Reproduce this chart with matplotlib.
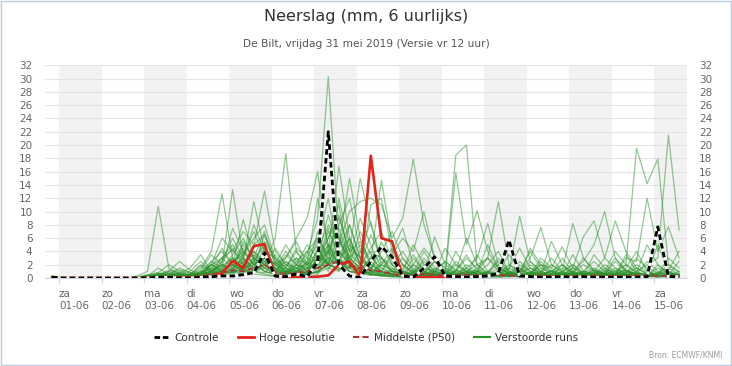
import pandas as pd
import matplotlib
matplotlib.use('Agg')
import matplotlib.pyplot as plt
from matplotlib.lines import Line2D
from matplotlib.patches import Rectangle

plt.rcParams['font.family'] = 'DejaVu Sans'

# 6-uurlijkse tijdstappen (eerste waarde 31-05 20u) en de dagen op de x-as
times = pd.date_range('2019-05-31 20:00', periods=60, freq='6h')
days = pd.date_range('2019-06-01', '2019-06-15', freq='D')
day_names = ['za', 'zo', 'ma', 'di', 'wo', 'do', 'vr', 'za',
             'zo', 'ma', 'di', 'wo', 'do', 'vr', 'za']

# neerslag in mm; per regel: 5 dagen van 4 stappen
controle = [0.1,
    0, 0, 0, 0,  0, 0, 0, 0,  0, 0.1, 0.1, 0,  0, 0.1, 0.2, 0.3,  0.3, 0.5, 0.8, 3.8,
    0.3, 0.2, 0.6, 0.2,  2.4, 22.0, 2.0, 0.3,  0.1, 2.5, 4.7, 3.2,  0.3, 0.1, 1.5, 3.2,  0.3, 0.2, 0.1, 0.2,
    0.3, 0.7, 5.7, 0.3,  0.2, 0.1, 0.1, 0.2,  0.1, 0.2, 0.1, 0.1,  0.1, 0.1, 0.1, 0.2,  7.7, 0.2, 0.2]

hoge_resolutie = [0,
    0, 0, 0, 0,  0, 0, 0, 0,  0, 0, 0, 0,  0, 0.1, 0.2, 0.7,  2.6, 1.5, 4.8, 5.1,
    0.3, 0.1, 0.1, 0.1,  0.2, 0.4, 2.0, 2.5,  0.2, 18.4, 6.0, 5.5,  0.2, 0.1, 0.1, 0.1,  0.1, 0.1, 0.1]

middelste = [0.1,
    0, 0, 0, 0,  0, 0, 0, 0,  0.1, 0.2, 0.2, 0.2,  0.2, 0.3, 0.6, 0.8,  1.2, 1.0, 1.5, 2.0,
    0.8, 0.6, 0.8, 1.0,  1.5, 2.0, 2.5, 1.8,  1.5, 1.2, 1.0, 0.6,  0.4, 0.4, 0.6, 0.5,  0.4, 0.4, 0.5, 0.4,
    0.4, 0.4, 0.4, 0.3,  0.3, 0.4, 0.3, 0.3,  0.3, 0.3, 0.4, 0.3,  0.3, 0.3, 0.4, 0.4,  0.3, 0.3, 0.3]

m01 = [0.2,
    0, 0, 0, 0,  0, 0, 0, 0,  0, 0.5, 1.2, 0.8,  0.3, 0.6, 1.5, 3.0,  4.2, 2.0, 1.0, 0.6,
    0.2, 0.5, 2.0, 3.5,  9.0, 30.3, 6.0, 1.5,  0.5, 1.0, 0.3, 0.2,  0.5, 1.2, 0.4, 0.2,  0, 0.3, 1.0, 0.6,
    0.2, 0, 0.4, 1.2,  0.5, 0.2, 0, 0.3,  0.8, 0.4, 0.2, 0,  0.3, 1.0, 0.5, 0.2,  0.4, 0.2, 0.1]
m02 = [0.3,
    0.1, 0, 0, 0,  0, 0, 0, 0.3,  1.0, 10.8, 1.5, 0.6,  0.4, 0.8, 2.0, 1.2,  3.5, 6.0, 2.5, 1.0,
    0.5, 1.5, 4.0, 2.0,  12.0, 5.0, 2.0, 8.0,  3.0, 1.2, 0.5, 0.3,  0.2, 0.8, 2.5, 1.0,  0.5, 0.3, 0.2, 1.5,
    3.0, 1.0, 0.4, 0.2,  0.6, 2.0, 1.0, 0.3,  0.2, 0.5, 1.2, 0.6,  0.3, 0.2, 1.5, 0.8,  0.5, 1.0, 0.3]
m03 = [0.2,
    0, 0, 0, 0,  0, 0, 0, 0,  0.2, 0.8, 2.0, 1.0,  0.5, 1.5, 4.0, 12.7,  3.0, 1.0, 2.5, 5.0,
    1.2, 0.6, 0.3, 1.0,  2.5, 4.0, 16.8, 6.0,  2.0, 0.8, 0.4, 0.2,  0, 0.5, 1.5, 0.7,  0.3, 1.0, 3.0, 1.5,
    0.6, 0.3, 0.2, 0.8,  2.5, 1.0, 0.4, 0.2,  0.6, 0.3, 0.5, 1.0,  4.0, 2.0, 0.8, 0.5,  0.3, 0.2, 0.6]
m04 = [0.2,
    0, 0, 0, 0,  0, 0, 0, 0,  0, 0.3, 1.0, 2.5,  1.2, 0.5, 1.0, 2.0,  13.3, 3.0, 1.5, 6.5,
    2.0, 0.8, 0.5, 0.3,  0.5, 3.5, 8.0, 12.0,  4.0, 1.0, 0.5, 0.3,  0.2, 0.2, 0.8, 0.5,  0.2, 0.6, 0.4, 0.3,
    1.0, 2.5, 1.0, 0.4,  0.3, 0.8, 3.0, 1.0,  0.5, 0.3, 0.2, 0.6,  1.2, 0.5, 0.3, 0.2,  0.2, 0.5, 0.3]
m05 = [0.1,
    0, 0, 0, 0,  0, 0, 0, 0,  0.4, 0.6, 0.8, 0.5,  0.2, 0.3, 2.5, 4.0,  2.0, 8.8, 3.0, 2.0,
    6.0, 18.7, 4.0, 1.5,  1.0, 2.0, 6.5, 3.0,  9.0, 5.0, 1.5, 0.6,  0.3, 0.4, 0.6, 0.3,  0.2, 0.2, 0.5, 1.0,
    0.5, 0.2, 0.2, 0.3,  0.5, 1.5, 0.6, 0.3,  0.2, 0.4, 0.8, 0.3,  0.3, 0.8, 2.0, 1.0,  0.4, 0.2, 0.2]
m06 = [0.2,
    0, 0, 0, 0,  0, 0, 0, 0,  0.3, 1.5, 0.5, 0.3,  0.5, 2.0, 1.0, 3.0,  5.0, 2.5, 11.5, 4.0,
    3.0, 1.0, 0.8, 2.0,  5.5, 12.0, 3.0, 1.0,  0.5, 11.0, 12.0, 4.0,  1.0, 0.5, 0.3, 0.2,  0.4, 1.2, 0.5, 0.2,
    0.2, 0.5, 1.5, 0.6,  0.3, 0.2, 0.4, 0.8,  2.0, 0.6, 0.3, 0.2,  0.5, 0.2, 0.3, 0.6,  0.3, 0.2, 0.5]
m07 = [0.2,
    0, 0, 0, 0,  0, 0, 0, 0,  0, 0.4, 0.6, 1.2,  0.8, 0.4, 2.0, 6.0,  4.0, 7.0, 5.0, 13.1,
    4.0, 2.0, 1.0, 0.6,  3.0, 6.0, 11.0, 2.0,  1.0, 0.5, 0.3, 0.2,  0.4, 0.2, 0.2, 0.6,  0.3, 0.2, 0.4, 0.3,
    0.2, 0.6, 0.4, 2.0,  1.0, 0.4, 0.2, 0.3,  0.8, 0.4, 0.2, 0.2,  0.4, 0.3, 0.2, 0.3,  0.2, 0.3, 0.2]
m08 = [0.3,
    0, 0, 0, 0,  0, 0, 0, 0.2,  0.5, 0.8, 0.4, 0.3,  0.6, 1.2, 3.5, 2.0,  1.5, 3.0, 8.0, 4.0,
    2.0, 3.0, 6.0, 9.0,  16.0, 4.0, 2.0, 1.0,  0.8, 2.5, 14.7, 5.0,  2.0, 0.6, 0.3, 0.2,  0.5, 0.3, 0.2, 0.4,
    0.8, 0.4, 0.2, 0.2,  0.4, 0.6, 0.3, 0.2,  0.3, 0.5, 0.8, 0.4,  0.2, 0.3, 0.4, 0.2,  0.3, 0.2, 0.2]
m09 = [0.1,
    0, 0, 0, 0,  0, 0, 0, 0,  0.2, 0.3, 0.6, 0.4,  0.3, 0.5, 1.0, 2.5,  6.0, 3.0, 1.0, 2.0,
    1.0, 3.5, 2.0, 1.0,  4.0, 8.0, 5.0, 15.0,  6.0, 2.0, 1.0, 0.5,  0.3, 2.0, 1.0, 0.4,  0.2, 0.3, 0.6, 0.3,
    0.2, 0.3, 0.8, 0.4,  0.2, 0.4, 0.2, 0.5,  1.5, 0.6, 0.3, 0.2,  0.2, 0.3, 0.8, 0.3,  0.2, 0.4, 0.3]
m10 = [0.2,
    0, 0, 0, 0,  0, 0, 0, 0,  0.3, 0.2, 0.4, 0.3,  0.5, 0.8, 2.0, 1.0,  2.5, 4.0, 2.0, 3.0,
    0.8, 1.5, 4.5, 3.0,  2.0, 6.0, 9.0, 4.0,  15.0, 8.0, 3.0, 1.0,  0.5, 0.3, 0.8, 2.5,  1.0, 0.4, 0.2, 0.3,
    0.3, 0.6, 0.3, 0.2,  0.6, 1.0, 0.4, 0.2,  0.3, 0.2, 0.5, 1.2,  0.5, 0.3, 0.2, 0.4,  0.2, 0.2, 0.3]
m11 = [0.2,
    0, 0, 0, 0,  0, 0, 0, 0,  0.1, 0.3, 0.5, 0.2,  0.3, 0.6, 1.0, 1.8,  3.0, 1.5, 2.0, 2.5,
    1.0, 0.8, 1.5, 2.0,  3.0, 2.5, 5.0, 10.0,  11.5, 12.0, 11.0, 6.0,  9.0, 17.9, 8.0, 3.0,  1.0, 0.5, 0.3, 0.2,
    0.2, 0.4, 0.8, 0.3,  0.2, 0.3, 0.6, 0.3,  0.2, 0.4, 0.3, 0.2,  0.3, 0.5, 0.3, 0.2,  0.2, 0.2, 0.3]
m12 = [0.1,
    0, 0, 0, 0,  0, 0, 0, 0,  0.2, 0.4, 0.3, 0.2,  0.2, 0.4, 1.2, 2.0,  1.0, 2.5, 3.5, 2.0,
    1.5, 0.8, 2.5, 4.0,  6.0, 3.0, 2.0, 1.5,  2.0, 4.0, 3.0, 1.0,  0.5, 2.0, 4.5, 2.5,  1.0, 18.5, 20.0, 2.0,
    3.0, 1.5, 0.8, 0.4,  0.3, 0.5, 1.0, 0.4,  0.3, 0.2, 0.4, 0.6,  0.3, 0.2, 0.4, 0.3,  0.2, 0.3, 0.2]
m13 = [0.2,
    0, 0, 0, 0,  0, 0, 0, 0,  0.3, 0.2, 0.5, 0.8,  0.4, 0.3, 0.8, 1.5,  2.0, 5.0, 3.0, 1.5,
    0.6, 1.0, 2.0, 5.0,  3.0, 9.5, 4.0, 2.0,  1.0, 3.0, 5.0, 2.0,  0.6, 0.4, 1.5, 1.0,  0.5, 15.8, 5.0, 10.1,
    4.0, 1.5, 0.8, 0.3,  0.2, 0.3, 0.5, 0.8,  0.5, 0.3, 0.2, 0.4,  0.6, 0.3, 0.2, 0.3,  0.4, 0.2, 0.3]
m14 = [0.2,
    0, 0, 0, 0,  0, 0, 0, 0,  0, 0.2, 0.3, 0.5,  0.3, 0.2, 0.6, 1.0,  2.5, 1.2, 0.8, 3.0,
    1.5, 4.0, 2.0, 1.0,  7.0, 2.0, 3.5, 6.0,  2.0, 1.0, 0.8, 3.5,  6.0, 4.0, 10.0, 3.0,  1.5, 0.8, 0.5, 1.0,
    3.0, 11.5, 2.0, 0.8,  0.4, 0.3, 0.6, 1.5,  0.8, 0.4, 0.3, 0.2,  0.3, 0.6, 0.4, 0.3,  0.2, 0.4, 0.3]
m15 = [0.1,
    0, 0, 0, 0,  0, 0, 0, 0,  0.2, 0.5, 0.3, 0.2,  0.2, 0.4, 0.8, 0.5,  1.0, 2.0, 4.0, 2.5,
    1.0, 2.5, 1.5, 0.8,  4.5, 2.0, 1.5, 3.0,  1.5, 0.6, 2.5, 1.0,  0.5, 0.8, 0.5, 6.2,  2.0, 0.8, 1.5, 3.0,
    8.2, 2.0, 1.0, 9.3,  2.5, 1.0, 0.4, 0.3,  0.6, 0.4, 0.8, 0.3,  0.2, 0.4, 0.3, 0.2,  0.3, 0.2, 0.4]
m16 = [0.2,
    0, 0, 0, 0,  0, 0, 0, 0,  0.1, 0.2, 0.4, 0.3,  0.5, 0.8, 1.5, 1.0,  0.8, 1.5, 2.5, 1.0,
    0.5, 0.8, 2.0, 1.5,  2.5, 5.0, 3.0, 1.0,  0.6, 0.4, 0.8, 0.5,  0.3, 0.6, 0.4, 1.0,  2.5, 1.2, 0.6, 0.4,
    1.0, 0.5, 2.0, 1.0,  3.0, 7.6, 2.0, 1.0,  8.2, 3.0, 1.0, 0.5,  0.6, 1.2, 0.5, 0.3,  0.4, 0.3, 0.2]
m17 = [0.2,
    0, 0, 0, 0,  0, 0, 0, 0,  0.2, 0.3, 0.2, 0.4,  0.6, 0.3, 0.5, 1.2,  2.0, 1.0, 0.8, 2.0,
    0.8, 0.5, 1.0, 2.5,  1.5, 3.0, 6.0, 2.0,  1.0, 0.5, 0.4, 0.6,  0.3, 0.2, 0.5, 0.8,  0.4, 0.3, 0.6, 0.3,
    0.5, 1.5, 0.6, 0.3,  0.8, 2.0, 1.5, 4.7,  1.5, 6.2, 8.6, 3.0,  1.5, 0.8, 0.6, 0.4,  0.3, 0.5, 0.3]
m18 = [0.1,
    0, 0, 0, 0,  0, 0, 0, 0,  0, 0.2, 0.3, 0.1,  0.2, 0.4, 0.3, 0.8,  1.2, 0.6, 1.0, 1.5,
    0.6, 0.4, 1.2, 0.8,  2.0, 4.0, 2.5, 1.0,  0.8, 0.5, 0.3, 1.5,  1.0, 0.4, 0.2, 0.3,  0.6, 0.4, 0.8, 0.4,
    0.3, 0.6, 0.4, 0.8,  1.5, 0.6, 0.4, 0.6,  1.0, 2.5, 5.0, 10.0,  3.0, 1.0, 0.6, 0.4,  0.4, 0.3, 0.5]
m19 = [0.1,
    0, 0, 0, 0,  0, 0, 0, 0,  0.1, 0.2, 0.2, 0.3,  0.2, 0.5, 0.6, 0.4,  0.8, 1.5, 0.6, 0.4,
    0.3, 0.8, 1.5, 0.6,  1.0, 2.0, 1.2, 3.0,  1.5, 0.6, 0.4, 0.3,  0.2, 0.4, 0.8, 0.4,  0.3, 0.6, 0.4, 0.2,
    0.4, 0.3, 0.8, 0.5,  0.3, 0.6, 1.0, 2.0,  0.8, 0.5, 1.2, 0.6,  1.0, 2.0, 19.5, 14.2,  17.9, 2.0, 1.0]
m20 = [0.2,
    0, 0, 0, 0,  0, 0, 0, 0,  0.2, 0.1, 0.3, 0.6,  0.4, 0.2, 0.5, 0.8,  1.5, 2.5, 1.0, 0.8,
    2.5, 1.0, 0.6, 1.5,  2.0, 7.0, 4.0, 2.5,  1.0, 0.8, 2.0, 1.2,  0.6, 0.3, 0.4, 1.5,  0.8, 0.4, 0.3, 0.6,
    0.4, 0.3, 0.5, 0.3,  0.6, 0.4, 0.3, 0.8,  0.5, 1.0, 0.6, 0.4,  0.8, 0.4, 1.0, 2.0,  3.0, 21.5, 7.2]
m21 = [0.1,
    0, 0, 0, 0,  0, 0, 0, 0,  0.1, 0.3, 0.2, 0.2,  0.3, 0.4, 0.6, 0.3,  0.6, 1.8, 3.0, 1.5,
    0.8, 2.0, 3.0, 1.0,  1.5, 4.5, 7.5, 3.0,  5.0, 2.0, 1.0, 0.5,  0.4, 0.8, 2.0, 0.6,  0.4, 0.6, 1.2, 0.5,
    0.3, 0.8, 0.4, 0.6,  0.4, 0.3, 1.2, 0.5,  0.3, 0.6, 0.4, 0.8,  0.5, 3.0, 2.5, 12.0,  4.0, 7.7, 3.0]
m22 = [0.2,
    0, 0, 0, 0,  0, 0, 0, 0,  0.3, 0.4, 0.2, 0.1,  0.2, 0.6, 0.4, 0.5,  1.0, 0.8, 2.0, 3.5,
    2.0, 1.2, 0.8, 0.5,  0.8, 1.5, 3.0, 4.5,  2.5, 1.5, 4.0, 7.0,  3.0, 1.0, 0.5, 0.3,  0.6, 0.4, 0.3, 0.8,
    0.5, 0.4, 0.3, 0.6,  0.8, 0.5, 1.0, 0.6,  0.8, 2.0, 1.0, 3.0,  8.6, 4.0, 1.5, 0.6,  0.8, 1.5, 0.5]
m23 = [0.2,
    0, 0, 0, 0,  0, 0, 0, 0,  0.2, 0.4, 1.0, 0.6,  0.3, 1.0, 2.5, 1.5,  7.5, 4.0, 2.0, 3.0,
    1.0, 0.6, 1.5, 3.0,  6.0, 3.5, 9.5, 4.0,  2.0, 6.5, 3.0, 1.5,  0.5, 0.3, 0.6, 0.4,  0.5, 1.0, 3.5, 1.0,
    0.4, 0.6, 0.8, 0.4,  4.5, 2.0, 0.6, 0.4,  0.5, 0.8, 0.4, 0.6,  0.3, 0.5, 0.8, 5.0,  2.0, 0.6, 0.4]
m24 = [0.1,
    0, 0, 0, 0,  0, 0, 0, 0,  0.2, 0.6, 0.3, 0.8,  1.5, 3.5, 1.0, 2.0,  1.0, 3.5, 6.0, 8.0,
    3.0, 1.5, 0.5, 0.8,  3.0, 2.0, 12.0, 5.0,  3.0, 1.5, 0.6, 1.0,  0.6, 3.0, 1.0, 0.5,  0.4, 4.0, 1.5, 0.6,
    0.5, 0.3, 0.6, 0.4,  1.0, 0.6, 0.3, 0.5,  0.4, 0.3, 0.6, 1.5,  0.6, 0.4, 0.3, 0.6,  5.0, 1.0, 0.4]
m25 = [0.2,
    0, 0, 0, 0,  0, 0, 0, 0,  0.4, 0.2, 0.5, 0.3,  0.6, 1.8, 0.8, 1.0,  2.0, 1.2, 3.0, 7.0,
    2.5, 0.6, 0.3, 0.5,  1.0, 2.0, 4.0, 2.0,  7.0, 3.5, 1.0, 0.4,  0.8, 0.5, 0.3, 0.6,  0.3, 0.5, 0.8, 1.2,
    0.6, 3.0, 1.0, 0.4,  0.3, 0.4, 0.6, 0.3,  1.0, 0.5, 0.3, 0.4,  0.6, 1.2, 0.5, 0.3,  0.8, 0.4, 1.0]
m26 = [0.1,
    0, 0, 0, 0,  0, 0, 0, 0,  0.1, 0.2, 0.4, 0.2,  0.3, 0.8, 2.0, 3.0,  1.5, 4.5, 2.0, 1.0,
    0.6, 1.0, 3.0, 2.0,  4.0, 2.0, 3.0, 5.0,  3.0, 2.0, 1.0, 4.0,  7.5, 2.0, 0.8, 0.4,  0.6, 2.0, 1.0, 0.5,
    0.4, 1.0, 3.5, 1.5,  0.6, 3.0, 1.5, 0.6,  0.4, 1.0, 2.5, 1.0,  0.5, 3.5, 1.0, 0.4,  0.6, 2.0, 0.8]
m27 = [0.2,
    0, 0, 0, 0,  0, 0, 0, 0,  0.2, 0.1, 0.3, 0.4,  0.2, 0.5, 0.8, 1.5,  3.0, 2.0, 4.0, 2.0,
    1.0, 2.5, 1.0, 4.0,  2.0, 5.0, 2.0, 1.5,  4.0, 8.5, 2.0, 1.0,  3.0, 1.2, 0.6, 2.5,  1.5, 0.6, 0.4, 3.5,
    1.0, 0.6, 0.4, 1.0,  4.0, 1.5, 0.8, 0.5,  3.5, 1.0, 0.6, 2.0,  1.0, 0.6, 3.0, 1.5,  0.8, 0.4, 2.5]
m28 = [0.1,
    0, 0, 0, 0,  0, 0, 0, 0,  0, 0.2, 0.4, 0.3,  0.5, 0.3, 1.2, 0.8,  2.5, 3.5, 7.0, 3.0,
    1.5, 0.8, 0.5, 1.0,  1.5, 3.0, 2.0, 6.0,  2.0, 1.0, 5.5, 2.0,  1.0, 5.0, 2.0, 0.8,  4.5, 2.0, 0.8, 0.5,
    0.8, 2.0, 0.6, 0.4,  1.5, 0.8, 5.5, 2.0,  0.6, 0.4, 1.0, 0.6,  2.5, 1.0, 0.5, 0.8,  0.6, 3.0, 1.5]
m29 = [0.2,
    0, 0, 0, 0,  0, 0, 0, 0,  0.2, 0.3, 0.2, 0.5,  0.4, 1.0, 0.6, 2.5,  4.5, 2.0, 1.0, 3.5,
    2.0, 5.0, 2.5, 1.0,  0.8, 4.0, 6.0, 2.5,  1.2, 3.0, 1.5, 0.8,  2.0, 0.8, 4.0, 1.5,  0.6, 0.4, 2.0, 0.8,
    5.0, 1.5, 0.6, 2.5,  1.0, 0.5, 0.3, 2.0,  0.8, 3.0, 1.2, 0.6,  0.4, 1.5, 4.0, 1.0,  0.5, 0.8, 0.4]
m30 = [0.1,
    0, 0, 0, 0,  0, 0, 0, 0,  0.3, 0.6, 0.2, 0.2,  0.6, 0.4, 2.0, 1.0,  1.2, 5.5, 3.0, 1.5,
    3.5, 1.5, 0.8, 2.5,  5.0, 1.5, 1.0, 3.5,  2.0, 4.5, 7.0, 2.5,  1.0, 0.5, 0.4, 0.8,  2.5, 1.0, 6.0, 2.0,
    0.8, 0.5, 0.3, 0.6,  0.5, 2.5, 1.0, 0.5,  0.6, 0.5, 3.5, 1.5,  0.8, 0.5, 0.6, 2.5,  1.0, 0.5, 0.6]
m31 = [0.2,
    0, 0, 0, 0,  0, 0, 0, 0,  0.1, 0.2, 0.6, 1.5,  0.8, 0.4, 0.6, 1.2,  2.0, 1.0, 2.5, 5.5,
    3.0, 1.5, 1.0, 0.6,  2.5, 7.5, 3.0, 1.5,  0.8, 1.5, 3.0, 2.0,  4.0, 1.5, 0.6, 0.3,  1.2, 0.6, 0.4, 0.8,
    2.0, 4.0, 1.0, 0.5,  0.4, 0.8, 2.0, 0.8,  0.4, 0.6, 0.4, 0.8,  1.5, 0.6, 0.4, 0.3,  2.0, 0.8, 0.5]
m32 = [0.2,
    0, 0, 0, 0,  0, 0, 0, 0,  0.2, 0.4, 0.3, 0.2,  0.2, 0.6, 1.5, 4.5,  2.0, 1.2, 0.8, 2.5,
    1.0, 3.0, 5.5, 2.0,  1.5, 2.5, 4.5, 8.0,  3.0, 1.5, 0.8, 0.6,  1.5, 3.5, 1.0, 0.6,  0.8, 0.4, 1.0, 2.0,
    0.6, 0.4, 1.5, 4.5,  1.5, 0.6, 0.4, 1.0,  2.0, 0.8, 0.4, 0.6,  3.0, 1.2, 0.6, 0.4,  0.6, 1.2, 4.0]
m33 = [0.1,
    0, 0, 0, 0,  0, 0, 0, 0,  0.1, 0.1, 0.3, 0.2,  0.3, 0.5, 0.4, 0.8,  1.0, 2.0, 5.0, 6.5,
    2.5, 1.0, 0.5, 0.4,  3.0, 1.0, 5.5, 3.0,  1.5, 0.6, 2.0, 4.5,  2.0, 0.8, 0.5, 0.3,  0.4, 2.5, 1.0, 0.4,
    0.3, 0.6, 0.4, 0.3,  0.8, 0.4, 0.6, 3.0,  1.0, 0.5, 0.3, 0.5,  0.6, 2.0, 0.8, 0.5,  0.4, 0.3, 0.6]
m34 = [0.2,
    0, 0, 0, 0,  0, 0, 0, 0,  0.3, 0.2, 0.5, 0.6,  1.0, 2.5, 1.0, 0.6,  1.5, 3.0, 1.5, 4.5,
    1.5, 0.6, 1.0, 1.5,  3.5, 2.0, 1.5, 4.0,  5.5, 2.5, 1.0, 0.5,  0.4, 1.0, 0.6, 1.2,  0.6, 0.3, 1.5, 0.6,
    0.4, 1.0, 0.5, 1.5,  0.6, 0.3, 0.5, 0.4,  1.5, 0.6, 0.4, 0.3,  0.4, 0.8, 1.5, 0.6,  0.4, 0.6, 0.3]
m35 = [0.1,
    0, 0, 0, 0,  0, 0, 0, 0,  0.1, 0.4, 0.2, 0.3,  0.2, 0.3, 0.6, 1.0,  0.8, 0.6, 1.5, 2.0,
    4.5, 2.0, 1.5, 0.6,  1.0, 2.0, 1.2, 2.5,  1.0, 0.6, 0.4, 1.0,  0.6, 0.4, 3.0, 1.0,  0.5, 0.3, 0.4, 1.0,
    0.6, 0.4, 0.3, 0.5,  2.0, 0.8, 0.4, 0.3,  0.5, 0.8, 1.5, 0.6,  0.4, 0.3, 0.5, 0.4,  1.5, 0.6, 0.3]

verstoorde_runs = [m01, m02, m03, m04, m05, m06, m07, m08, m09, m10, m11, m12,
                   m13, m14, m15, m16, m17, m18, m19, m20, m21, m22, m23, m24,
                   m25, m26, m27, m28, m29, m30, m31, m32, m33, m34, m35]

GREEN = '#2a922a'
RED = '#e2231a'
P50 = '#a83a3a'
GREY = '#666666'

fig = plt.figure(figsize=(7.32, 3.66), dpi=100)
ax = fig.add_axes([45/732, 88/366, 641.7/732, 212.7/366])

# afwisselend grijze dagbanden
for k in range(0, len(days), 2):
    ax.axvspan(days[k], days[k] + pd.Timedelta(days=1), color='#f2f2f2', lw=0, zorder=0)

for run in verstoorde_runs:
    ax.plot(times, run, color=GREEN, lw=0.9, alpha=0.5, zorder=2)
ax.plot(times, middelste, color=P50, lw=1.4, ls=(0, (3, 1.6)), zorder=3)
ax.plot(times[:len(hoge_resolutie)], hoge_resolutie, color=RED, lw=1.9, zorder=4)
ax.plot(times, controle, color='black', lw=2.0, ls=(0, (2, 1.2)), gapcolor='white', zorder=5)

ax.set_xlim(pd.Timestamp('2019-05-31 16:06'), pd.Timestamp('2019-06-15 18:19'))
ax.set_ylim(0, 32)
ax.set_yticks(range(0, 33, 2))
ax.grid(axis='y', color='#e3e3e3', lw=0.8)
ax.set_axisbelow(True)

ax.set_xticks(days)
ax.set_xticklabels([f'{n}\n{d:%d-%m}' for n, d in zip(day_names, days)])
for lbl in ax.get_xticklabels():
    lbl.set_horizontalalignment('left')
    lbl.set_verticalalignment('top')
    lbl.set_fontsize(7.5)
    lbl.set_color(GREY)
    lbl.set_linespacing(1.2)
ax.tick_params(axis='x', length=3.6, color='#ccd6eb', width=0.8, pad=4.5)
ax.tick_params(axis='y', length=0, labelsize=7.5, labelcolor=GREY, pad=9,
               labelleft=True, labelright=True)

for s in ['top', 'left', 'right']:
    ax.spines[s].set_visible(False)
ax.spines['bottom'].set_color('#ccd6eb')

fig.text(0.5, 1 - 16/366, 'Neerslag (mm, 6 uurlijks)', ha='center', va='center',
         fontsize=11.5, color='#333333')
fig.text(0.5, 1 - 44/366, 'De Bilt, vrijdag 31 mei 2019 (Versie vr 12 uur)',
         ha='center', va='center', fontsize=7.7, color='#555555')

handles = [Line2D([], [], color='black', lw=2, ls=(0, (2, 1))),
           Line2D([], [], color=RED, lw=2),
           Line2D([], [], color=P50, lw=1.5, ls=(0, (3, 1.5))),
           Line2D([], [], color=GREEN, lw=1.5)]
labels = ['Controle', 'Hoge resolutie', 'Middelste (P50)', 'Verstoorde runs']
fig.legend(handles, labels, loc='center', bbox_to_anchor=(0.5, 1 - 338/366), ncol=4,
           frameon=False, fontsize=7.5, handlelength=1.5, handletextpad=0.5,
           columnspacing=1.8, labelcolor='#333333')

fig.text(722/732, 1 - 355/366, 'Bron: ECMWF/KNMI', ha='right', va='center',
         fontsize=5.5, color='#999999')

fig.add_artist(Rectangle((0.0007, 0.0014), 0.9986, 0.997, transform=fig.transFigure,
                         fill=False, edgecolor='#b5cce4', lw=1))

fig.savefig('out.png', dpi=100)
